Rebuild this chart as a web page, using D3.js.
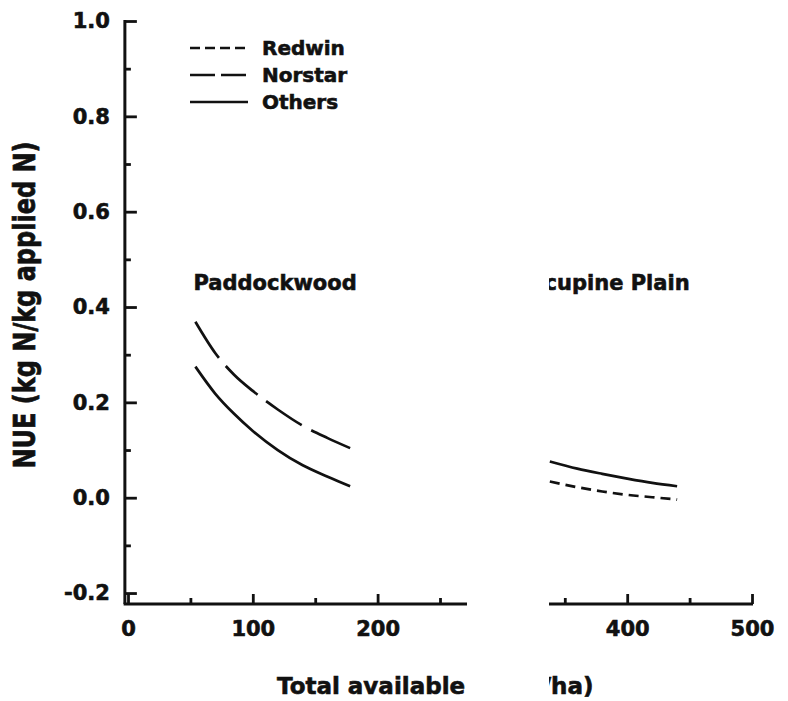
<!DOCTYPE html>
<html>
<meta charset="utf-8">
<body style="margin:0;background:#fff">
<script src="https://d3js.org/d3.v7.min.js"></script>
<div id="my_dataviz"></div>
<script>

// Paddockwood site
var paddockX = [54, 70, 85, 100, 120, 140, 160, 178]
var paddockNorstar = [0.369, 0.303, 0.258, 0.224, 0.185, 0.151, 0.125, 0.104]
var paddockOthers = [0.275, 0.218, 0.176, 0.140, 0.100, 0.068, 0.044, 0.024]

// Porcupine Plain site
var porcX = [338, 360, 380, 400, 420, 440]
var porcRedwin = [0.034, 0.022, 0.013, 0.006, 0.001, -0.004]
var porcOthers = [0.076, 0.061, 0.050, 0.040, 0.031, 0.024]

var legendNames = ["Redwin", "Norstar", "Others"]
var siteNames = ["Paddockwood", "Porcupine Plain"]
var yMajor = [-0.2, 0, 0.2, 0.4, 0.6, 0.8, 1.0]
var yMinor = [-0.1, 0.1, 0.3, 0.5, 0.7, 0.9]
var xMajor = [0, 100, 200, 300, 400, 500]
var xMinor = [50, 150, 250, 350, 450]

var width = 788, height = 701
var font = "DejaVu Sans, sans-serif"

var svg = d3.select("#my_dataviz")
  .append("svg")
    .attr("width", width)
    .attr("height", height)
    .style("font-family", font)
    .style("font-weight", "bold")

var x = d3.scaleLinear().domain([0, 500]).range([128, 752])
var y = d3.scaleLinear().domain([-0.223, 1.0]).range([604, 21])

var legendDash = {Redwin: "10,5", Norstar: "25,6", Others: null}

// make the text a little heavier, like the scan
function heavy(sel) {
  sel.attr("fill", "#111").attr("stroke", "#111").attr("stroke-width", 0.6)
}

// axes lines
svg.append("line")
  .attr("x1", x(-2.5)).attr("x2", x(-2.5))
  .attr("y1", y(1.0) - 1).attr("y2", y(-0.223))
  .attr("stroke", "#111").attr("stroke-width", 3)
svg.append("line")
  .attr("x1", x(-3.5)).attr("x2", x(500) + 1)
  .attr("y1", y(-0.223)).attr("y2", y(-0.223))
  .attr("stroke", "#111").attr("stroke-width", 3)

// y ticks
var yAx = svg.append("g")
  .attr("transform", "translate(" + x(-2.5) + ",0)")
  .call(d3.axisLeft(y).tickValues(yMajor).tickSize(-12).tickPadding(15)
    .tickFormat(function(d) { return d.toFixed(1) }))
yAx.select(".domain").remove()
var yAxMinor = svg.append("g")
  .attr("transform", "translate(" + x(-2.5) + ",0)")
  .call(d3.axisLeft(y).tickValues(yMinor).tickSize(-6).tickFormat(""))
yAxMinor.select(".domain").remove()

// x ticks
var xAx = svg.append("g")
  .attr("transform", "translate(0," + y(-0.223) + ")")
  .call(d3.axisBottom(x).tickValues(xMajor).tickSize(-10).tickPadding(17))
xAx.select(".domain").remove()
var xAxMinor = svg.append("g")
  .attr("transform", "translate(0," + y(-0.223) + ")")
  .call(d3.axisBottom(x).tickValues(xMinor).tickSize(-6).tickFormat(""))
xAxMinor.select(".domain").remove()

svg.selectAll(".tick line").attr("stroke", "#111").attr("stroke-width", 2.8)
svg.selectAll(".tick text")
  .style("font-family", font)
  .style("font-weight", "bold")
  .style("font-size", "21px")
  .call(heavy)

// curves
var line = d3.line()
  .x(function(d) { return x(d[0]) })
  .y(function(d) { return y(d[1]) })
  .curve(d3.curveMonotoneX)

var series = [
  {name: "Norstar", xs: paddockX, ys: paddockNorstar},
  {name: "Others", xs: paddockX, ys: paddockOthers},
  {name: "Redwin", xs: porcX, ys: porcRedwin},
  {name: "Others", xs: porcX, ys: porcOthers}
]
series.forEach(function(s) {
  var p = svg.append("path")
    .datum(d3.zip(s.xs, s.ys))
    .attr("d", line)
    .attr("fill", "none")
    .attr("stroke", "#111")
    .attr("stroke-width", 2.7)
  if (s.name === "Norstar") {
    // four long dashes that end on the last point
    var L = p.node().getTotalLength()
    var d = L / 4.75
    p.attr("stroke-dasharray", d + "," + (d / 4))
  } else if (s.name === "Redwin") {
    p.attr("stroke-dasharray", "10,6")
  }
})

// site labels
svg.append("text")
  .attr("x", x(52.5)).attr("y", y(0.435))
  .style("font-size", "21px")
  .text(siteNames[0])
  .call(heavy)
svg.append("text")
  .attr("x", x(450)).attr("y", y(0.435))
  .attr("text-anchor", "end")
  .style("font-size", "21px")
  .text(siteNames[1])
  .call(heavy)

// legend
legendNames.forEach(function(n, i) {
  var ly = 48 + i * 27
  svg.append("line")
    .attr("x1", 190).attr("x2", 248)
    .attr("y1", ly).attr("y2", ly)
    .attr("stroke", "#111").attr("stroke-width", 2.6)
    .attr("stroke-dasharray", legendDash[n])
  svg.append("text")
    .attr("x", 262).attr("y", ly + 7)
    .style("font-size", "20px")
    .text(n)
    .call(heavy)
})

// axis titles
svg.append("text")
  .attr("x", 277).attr("y", 694)
  .style("font-size", "23px")
  .text("Total available N (kg/ha)")
  .call(heavy)
svg.append("text")
  .attr("transform", "translate(35,305) scale(1.22,1) rotate(-90)")
  .attr("text-anchor", "middle")
  .style("font-size", "24px")
  .text("NUE (kg N/kg applied N)")
  .call(heavy)

// blank strip that hides the middle of the scan
svg.append("rect")
  .attr("x", 467).attr("y", 0)
  .attr("width", 82).attr("height", height)
  .attr("fill", "#fff")

</script>
</body>
</html>
